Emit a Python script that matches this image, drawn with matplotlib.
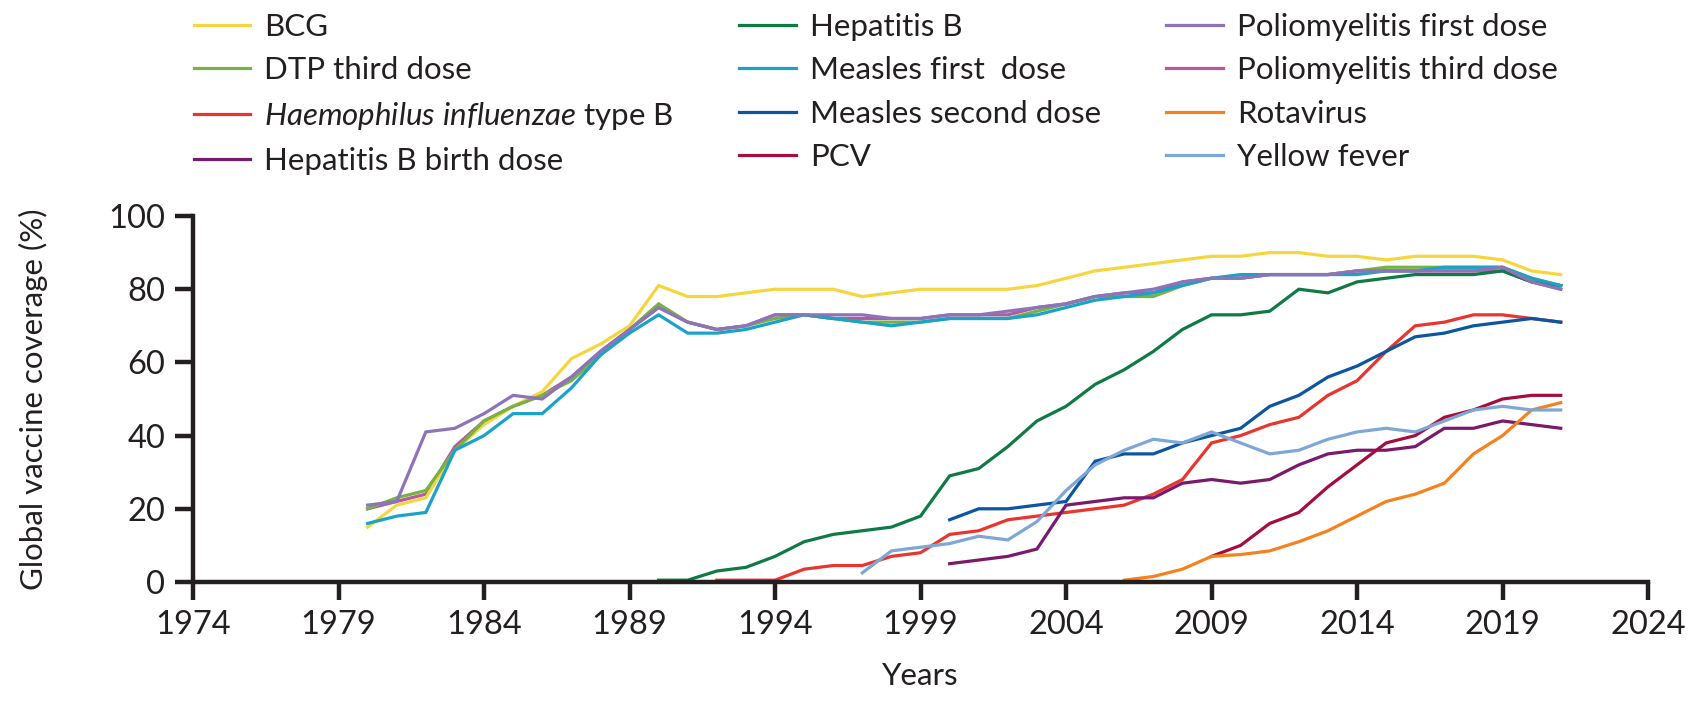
import matplotlib
matplotlib.use("Agg")
import matplotlib.pyplot as plt

# ------------------------------------------------------------
# Dados (cobertura vacinal global, %)
# ------------------------------------------------------------
bcg_start = 1980
bcg = [15, 21, 23, 36, 43, 48, 52, 61, 65, 70,
       81, 78, 78, 79, 80, 80, 80, 78, 79, 80,
       80, 80, 80, 81, 83, 85, 86, 87, 88, 89,
       89, 90, 90, 89, 89, 88, 89, 89, 89, 88,
       85, 84]

dtp3_start = 1980
dtp3 = [20, 23, 25, 36, 44, 48, 51, 55, 62, 69,
        76, 71, 69, 70, 72, 73, 72, 71, 71, 71,
        72, 72, 72, 74, 76, 78, 78, 78, 81, 83,
        83, 84, 84, 84, 85, 86, 86, 86, 86, 86,
        83, 81]

hib_start = 1992
hib = [0.5, 0.5, 0.5, 3.5, 4.5, 4.5, 7, 8,
       13, 14, 17, 18, 19, 20, 21, 24, 28, 38,
       40, 43, 45, 51, 55, 63, 70, 71, 73, 73,
       72, 71]

hepb_birth_start = 2000
hepb_birth = [5, 6, 7, 9, 21, 22, 23, 23, 27, 28,
              27, 28, 32, 35, 36, 36, 37, 42, 42, 44,
              43, 42]

hepb_start = 1990
hepb = [0.5, 0.5, 3, 4, 7, 11, 13, 14, 15, 18,
        29, 31, 37, 44, 48, 54, 58, 63, 69, 73,
        73, 74, 80, 79, 82, 83, 84, 84, 84, 85,
        82, 81]

mcv1_start = 1980
mcv1 = [16, 18, 19, 36, 40, 46, 46, 53, 62, 68,
        73, 68, 68, 69, 71, 73, 72, 71, 70, 71,
        72, 72, 72, 73, 75, 77, 78, 79, 81, 83,
        84, 84, 84, 84, 84, 85, 85, 86, 86, 86,
        83, 81]

mcv2_start = 2000
mcv2 = [17, 20, 20, 21, 22, 33, 35, 35, 38, 40,
        42, 48, 51, 56, 59, 63, 67, 68, 70, 71,
        72, 71]

pcv_start = 2009
pcv = [7, 10, 16, 19, 26, 32, 38, 40, 45, 47, 50, 51, 51]

pol1_start = 1980
pol1 = [21, 22, 41, 42, 46, 51, 50, 56, 63, 69,
        75, 71, 69, 70, 73, 73, 73, 73, 72, 72,
        73, 73, 74, 75, 76, 78, 79, 80, 82, 83,
        83, 84, 84, 84, 85, 85, 85, 85, 85, 86,
        82, 80]

pol3_start = 1980
pol3 = [20, 22, 24, 37, 44, 48, 51, 56, 63, 69,
        75, 71, 69, 70, 73, 73, 72, 72, 72, 72,
        73, 73, 73, 75, 76, 78, 79, 79, 82, 83,
        83, 84, 84, 84, 85, 85, 85, 85, 85, 85,
        82, 80]

rota_start = 2006
rota = [0.5, 1.5, 3.5, 7, 7.5, 8.5, 11, 14, 18, 22,
        24, 27, 35, 40, 47, 49]

yf_start = 1997
yf = [2.5, 8.5, 9.5, 10.5, 12.5, 11.5, 16.5, 25, 32, 36,
      39, 38, 41, 38, 35, 36, 39, 41, 42, 41,
      44, 47, 48, 47, 47]

anos_ticks = [1974, 1979, 1984, 1989, 1994, 1999, 2004, 2009, 2014, 2019, 2024]
y_ticks = [0, 20, 40, 60, 80, 100]

# ------------------------------------------------------------
# Estilo
# ------------------------------------------------------------
plt.rcParams["font.family"] = ["Lato", "DejaVu Sans"]
plt.rcParams["mathtext.fontset"] = "custom"
plt.rcParams["mathtext.it"] = "Lato:italic"
plt.rcParams["mathtext.rm"] = "Lato"
TXT = "#231f20"
FS = 22.5       # legenda e rotulos dos eixos
FS_TICK = 23.5  # numeros dos eixos

series = [
    ("BCG", bcg_start, bcg, "#f6d63e"),
    ("DTP third dose", dtp3_start, dtp3, "#77b244"),
    (r"$\it{Haemophilus\ influenzae}$ type B", hib_start, hib, "#e8362f"),
    ("Hepatitis B birth dose", hepb_birth_start, hepb_birth, "#7a1a6c"),
    ("Hepatitis B", hepb_start, hepb, "#0f7a44"),
    ("Measles first  dose", mcv1_start, mcv1, "#1aa3c7"),
    ("Measles second dose", mcv2_start, mcv2, "#0c55a0"),
    ("PCV", pcv_start, pcv, "#a60d3f"),
    ("Poliomyelitis first dose", pol1_start, pol1, "#8d73b9"),
    ("Poliomyelitis third dose", pol3_start, pol3, "#b45a9f"),
    ("Rotavirus", rota_start, rota, "#f5821f"),
    ("Yellow fever", yf_start, yf, "#7ea7d7"),
]

# ordem de desenho (polio 1a dose por cima)
zorder = {"Poliomyelitis third dose": 2.0, "Poliomyelitis first dose": 2.6}

fig = plt.figure(figsize=(17.02, 7.12), dpi=100)
ax = fig.add_axes([0.1134, 0.1826, 0.8549, 0.514])

handles = []
for nome, ini, vals, cor in series:
    anos = list(range(ini, ini + len(vals)))
    (ln,) = ax.plot(anos, vals, color=cor, lw=2.3, label=nome,
                    zorder=zorder.get(nome, 2.2), clip_on=False,
                    solid_joinstyle="miter")
    handles.append(ln)

ax.set_xlim(1974, 2024)
ax.set_ylim(0, 100)
ax.set_xticks(anos_ticks)
ax.set_yticks(y_ticks)

for s in ["top", "right"]:
    ax.spines[s].set_visible(False)
for s in ["left", "bottom"]:
    ax.spines[s].set_linewidth(3.2)
    ax.spines[s].set_color(TXT)
    ax.spines[s].set_capstyle("projecting")

ax.tick_params(axis="both", direction="out", length=13, width=3.2,
               color=TXT, labelcolor=TXT, labelsize=FS_TICK, pad=7)

ax.set_xlabel("Years", fontsize=FS, color=TXT, labelpad=16)
ax.set_ylabel("Global vaccine coverage (%)", fontsize=FS, color=TXT)
ax.yaxis.set_label_coords(-0.100, 0.5)

fig.legend(handles=handles, loc="upper left",
           bbox_to_anchor=(194 / 1702, 1 - 13 / 712),
           ncol=3, frameon=False, fontsize=FS,
           handlelength=1.8, handletextpad=0.45, columnspacing=2.1,
           labelspacing=0.49, borderpad=0, borderaxespad=0,
           labelcolor=TXT)

fig.savefig("out.png", dpi=100)
